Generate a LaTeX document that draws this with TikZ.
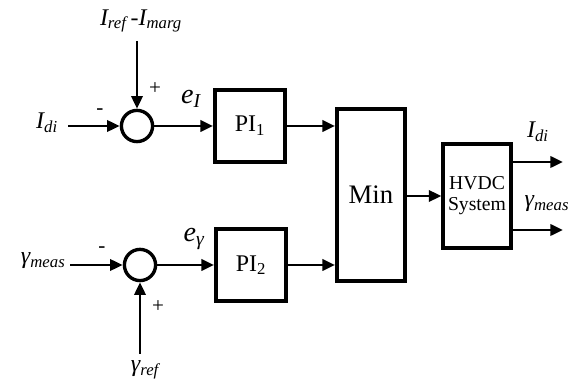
\documentclass[tikz,border=0pt]{standalone}
\usepackage{fontspec}
\setmainfont{Liberation Serif}
\usetikzlibrary{arrows.meta, positioning}

\begin{document}
\begin{tikzpicture}[x=0.025cm, y=-0.025cm, font=\fontsize{17}{19}\selectfont,
    >={Triangle[length=9pt, width=8pt]},
    block/.style={draw, line width=2.8pt, inner sep=0pt},
    sumnode/.style={circle, draw, line width=2.4pt, minimum size=0.78cm, inner sep=0pt},
    sig/.style={->, line width=2pt},
    lbl/.style={inner sep=1pt, font=\fontsize{17}{19}\selectfont\itshape},
    sgn/.style={font=\fontsize{15}{15}\selectfont}]
  \useasboundingbox (0,0) rectangle (581,386);

  \node[sumnode] (sum1) at (137, 126) {};
  \node[sumnode] (sum2) at (140, 265) {};
  \node[block, minimum width=1.75cm, minimum height=1.78cm] (pi1) at (250, 126) {PI\textsubscript{1}};
  \node[block, minimum width=1.75cm, minimum height=1.78cm] (pi2) at (251, 265) {PI\textsubscript{2}};
  \node[block, minimum width=1.7cm, minimum height=4.3cm, font=\fontsize{19}{21}\selectfont] (min) at (371, 195) {Min};
  \node[block, minimum width=1.68cm, minimum height=2.58cm, align=center,
        font=\fontsize{14}{15}\selectfont] (hvdc) at (477, 196) {HVDC\\System};

  % inputs
  \node[lbl, anchor=east, inner xsep=7pt] (idi) at (68, 123) {I\textsubscript{di}};
  \node[lbl, outer sep=5pt] (iref) at (141, 21) {I\textsubscript{ref}\,-I\textsubscript{marg}};
  \node[lbl, anchor=east, inner xsep=3pt] (gmeas) at (70, 261) {γ\textsubscript{meas}};
  \node[lbl, outer sep=4pt] (gref) at (145, 370) {γ\textsubscript{ref}};

  % signs and errors
  \node[sgn] (p1) at (155, 89) {+};
  \node[sgn] (m1) at (100, 112) {-};
  \node[sgn] (m2) at (102, 250) {-};
  \node[sgn] (p2) at (158, 307) {+};
  \node[lbl, font=\fontsize{20}{22}\selectfont\itshape] (eI) at (191, 99) {e\textsubscript{I}};
  \node[lbl, font=\fontsize{20}{22}\selectfont\itshape] (eg) at (194, 239) {e\textsubscript{γ}};

  % outputs
  \coordinate (out1) at (563, 162);
  \coordinate (out2) at (563, 230);
  \node[lbl] (yidi) at (538, 132) {I\textsubscript{di}};
  \node[lbl] (ygmeas) at (547, 204) {γ\textsubscript{meas}};

  % connectors
  \draw[sig] (idi.east |- sum1) -- (sum1);
  \draw[sig] (iref.south -| sum1) -- (sum1);
  \draw[sig] (gmeas.east |- sum2) -- (sum2);
  \draw[sig] (gref.north -| sum2) -- (sum2);
  \draw[sig] (sum1) -- (pi1);
  \draw[sig] (sum2) -- (pi2);
  \draw[sig] (pi1.east) -- (pi1.east -| min.west);
  \draw[sig] (pi2.east) -- (pi2.east -| min.west);
  \draw[sig] (min.east |- hvdc) -- (hvdc.west);
  \draw[sig] (out1 -| hvdc.east) -- (out1);
  \draw[sig] (out2 -| hvdc.east) -- (out2);
\end{tikzpicture}
\end{document}
